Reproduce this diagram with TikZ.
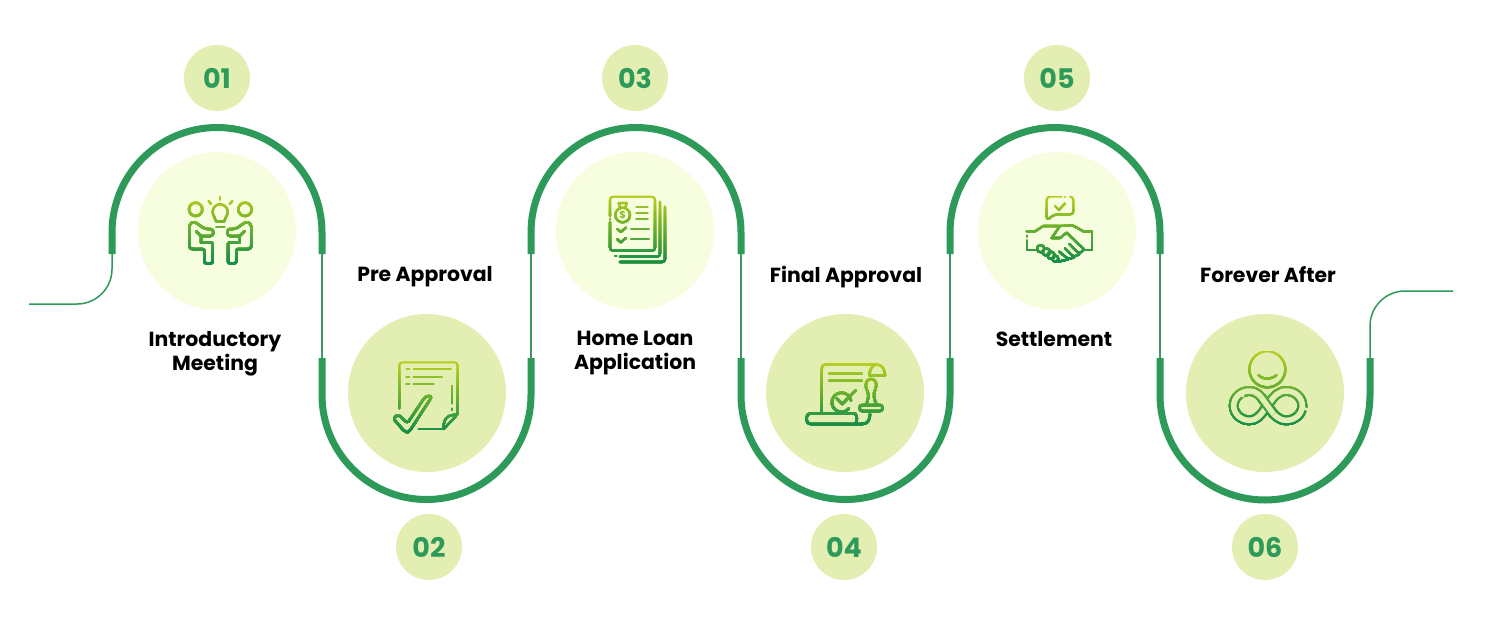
\documentclass[tikz,border=0pt]{standalone}
\usepackage{fontspec}
\setmainfont{Poppins}
\definecolor{wave}{HTML}{2E9A5A}
\definecolor{thin}{HTML}{3F9468}
\definecolor{pale}{HTML}{F7FEDF}
\definecolor{soft}{HTML}{E3EEB3}
\definecolor{icontop}{HTML}{B4CE1E}
\definecolor{iconbot}{HTML}{14904A}
\colorlet{gc}{iconbot}
\tikzset{
  thickwave/.style={draw=wave,line width=7pt,line cap=butt},
  thinwave/.style={draw=thin,line width=1.8pt},
  leadwave/.style={draw=wave,line width=1.5pt},
  bigpale/.style={circle,fill=pale,minimum size=158pt,inner sep=0pt},
  bigsoft/.style={circle,fill=soft,minimum size=158pt,inner sep=0pt},
  numdisc/.style={circle,fill=soft,minimum size=66pt,inner sep=0pt,text=wave,font=\bfseries\fontsize{27}{30}\selectfont},
  steplabel/.style={align=center,text=black,font=\bfseries\fontsize{20.4}{24}\selectfont},
  ic/.style={draw=gc,line width=2.5pt,line cap=round,line join=round},
  ict/.style={draw=gc,line width=2.1pt,line cap=round,line join=round},
  iconframe/.style={x=0.33333pt,y=-0.33333pt}
}
% #1,#2 = top and bottom of the icon (local y); #3 = stroked paths
\newcommand\gradicon[3]{%
  \foreach \i in {0,...,23}{%
    \pgfmathsetmacro\pp{100-100*\i/23}%
    \pgfmathsetmacro\yy{#1+\i*(#2-#1)/24}%
    \colorlet{gc}{icontop!\pp!iconbot}%
    \begin{scope}
      \clip (-200,\yy) rectangle (800,#2+30);
      #3
    \end{scope}
  }%
}
\newcommand\personpath{%
  \draw[ic,rounded corners=3pt] (190,297) -- (178,297) -- (178,222) -- (192,214) -- (225,237) -- (250,237) -- (250,258) -- (213,258);
  \draw[ic] (198,243) -- (213,258) -- (213,277);
  \draw[ic,rounded corners=2pt] (190,297) -- (223,297) -- (223,340) -- (248,340) -- (248,277) -- (213,277);
}
\begin{document}
\begin{tikzpicture}[x=1pt,y=-1pt]
\useasboundingbox (0,0) rectangle (1486,621);
% ---- discs
\node[bigpale] (c1) at (217,231) {};
\node[bigsoft] (c2) at (427,393) {};
\node[bigpale] (c3) at (635,231) {};
\node[bigsoft] (c4) at (845,393) {};
\node[bigpale] (c5) at (1057,231) {};
\node[bigsoft] (c6) at (1265,393) {};
% ---- wave junctions
\coordinate (s) at (29,304);
\coordinate (a0u) at (112,254);
\coordinate (a1u) at (322,254); \coordinate (a1d) at (322,358);
\coordinate (a2u) at (531,254); \coordinate (a2d) at (531,358);
\coordinate (a3u) at (741,254); \coordinate (a3d) at (741,358);
\coordinate (a4u) at (950,254); \coordinate (a4d) at (950,358);
\coordinate (a5u) at (1160,254); \coordinate (a5d) at (1160,358);
\coordinate (a6d) at (1370,358);
\coordinate (e) at (1453,291);
% thin parts
\draw[thinwave] (a1u) -- (a1d);
\draw[thinwave] (a2u) -- (a2d);
\draw[thinwave] (a3u) -- (a3d);
\draw[thinwave] (a4u) -- (a4d);
\draw[thinwave] (a5u) -- (a5d);
\draw[leadwave] (s) -- ++(48,0) arc[start angle=90,end angle=0,radius=35] -- (a0u);
\draw[leadwave] (a6d) -- ++(0,-32) arc[start angle=180,end angle=270,radius=35] -- (e);
% thick arches
\draw[thickwave] (a0u) -- ++(0,-21.5) arc[start angle=180,end angle=360,radius=105] -- (a1u);
\draw[thickwave] (a1d) -- ++(0,37) arc[start angle=180,end angle=0,radius=104.5] -- (a2d);
\draw[thickwave] (a2u) -- ++(0,-21.5) arc[start angle=180,end angle=360,radius=105] -- (a3u);
\draw[thickwave] (a3d) -- ++(0,37) arc[start angle=180,end angle=0,radius=104.5] -- (a4d);
\draw[thickwave] (a4u) -- ++(0,-21.5) arc[start angle=180,end angle=360,radius=105] -- (a5u);
\draw[thickwave] (a5d) -- ++(0,37) arc[start angle=180,end angle=0,radius=105] -- (a6d);
% ---- number discs
\node[numdisc] (n1) at (217,78) {01};
\node[numdisc] (n2) at (429,547) {02};
\node[numdisc] (n3) at (635,78) {03};
\node[numdisc] (n4) at (844,547) {04};
\node[numdisc] (n5) at (1057,78) {05};
\node[numdisc] (n6) at (1265,547) {06};
% ---- labels
\node[steplabel] (l1) at (215,354) {Introductory\\Meeting};
\node[steplabel] (l2) at (425,277) {Pre Approval};
\node[steplabel] (l3) at (635,353) {Home Loan\\Application};
\node[steplabel] (l4) at (846,277) {Final Approval};
\node[steplabel] (l5) at (1054,339) {Settlement};
\node[steplabel] (l6) at (1268,275) {Forever After};
% ---- icon 1: meeting
\begin{scope}[shift={(130,150)},iconframe]
\gradicon{135}{342}{
  \draw[ic] (197,178) circle[radius=20];
  \draw[ic] (345,178) circle[radius=20];
  \draw[ict] (258,214) .. controls (258,203) and (248,199) .. (248,186) .. controls (248,172) and (258,163) .. (270,163) .. controls (283,163) and (293,172) .. (293,186) .. controls (293,199) and (283,203) .. (283,214) -- cycle;
  \draw[ict] (260,231) -- (282,231);
  \draw[ict] (270,140) -- (270,149);
  \draw[ict] (236,153) -- (243,162);
  \draw[ict] (307,153) -- (299,162);
  \personpath
  \begin{scope}[shift={(542,0)},xscale=-1]\personpath\end{scope}
}
\end{scope}
% ---- icon 2: signed page
\begin{scope}[shift={(345,315)},iconframe]
\gradicon{138}{354}{
  \draw[ict,rounded corners=3pt] (163,280) -- (163,142) -- (338,142) -- (338,298) -- (296,342);
  \draw[ict] (296,342) -- (222,342);
  \draw[ict] (338,298) .. controls (312,300) and (294,305) .. (296,342);
  \draw[ict] (322,214) -- (322,264);
  \draw[ict] (322,282) -- (322,284);
  \draw[ict] (207,163) -- (317,163);
  \draw[ict] (207,185) -- (290,185);
  \draw[ict] (207,207) -- (265,207);
  \draw[ict] (185,163) -- (192,163);
  \draw[ict] (185,185) -- (192,185);
  \draw[ict] (185,207) -- (192,207);
  \draw[ic,rounded corners=3pt] (160,298) -- (187,325) -- (242,243) -- (262,243) -- (192,351) -- (180,351) -- (144,310) -- cycle;
}
\end{scope}
% ---- icon 3: documents
\begin{scope}[shift={(560,160)},iconframe]
\gradicon{105}{310}{
  \draw[ict,rounded corners=3pt] (150,168) -- (150,110) -- (285,110) -- (285,272) -- (150,272) -- (150,186);
  \draw[ict] (150,177) -- (150,178);
  \draw[ict,rounded corners=3pt] (300,125) -- (300,290) -- (180,290);
  \draw[ict] (167,288) -- (168,288);
  \draw[ict,rounded corners=3pt] (315,140) -- (315,306) -- (180,306);
  \draw[ict] (188,165) circle[radius=22];
  \draw[ict] (180,143) -- (176,129) -- (200,129) -- (196,143);
  \draw[ict] (230,140) -- (262,140);
  \draw[ict] (230,160) -- (262,160);
  \draw[ict] (230,178) -- (262,178);
  \draw[ict] (172,207) -- (182,216) -- (198,203);
  \draw[ict] (172,238) -- (182,247) -- (198,234);
  \draw[ict] (215,208) -- (265,208);
  \draw[ict] (215,238) -- (265,238);
}
\node[text=icontop!75!iconbot,font=\bfseries\fontsize{10}{10}\selectfont,inner sep=0pt] (bag) at (188,165) {\$};
\end{scope}
% ---- icon 4: stamped scroll
\begin{scope}[shift={(770,330)},iconframe]
\gradicon{100}{286}{
  \draw[ic,rounded corners=4pt] (155,245) -- (155,103) -- (322,103);
  \draw[ic] (322,103) .. controls (338,105) and (345,120) .. (345,136) -- (298,136) .. controls (298,118) and (308,104) .. (322,103);
  \draw[ic] (178,130) -- (275,130);
  \draw[ic] (178,152) -- (275,152);
  \draw[ic] (243,212) arc[start angle=-10,end angle=-320,radius=29];
  \draw[ic] (200,205) -- (217,222) -- (258,180);
  \draw[ic] (288,225) .. controls (296,205) and (298,195) .. (290,178) .. controls (282,158) and (293,147) .. (303,147) .. controls (315,147) and (324,160) .. (316,178) .. controls (308,195) and (312,205) .. (320,225);
  \draw[ic,rounded corners=3pt] (268,225) rectangle (338,243);
  \draw[ic,rounded corners=4pt] (255,250) -- (110,250) -- (110,282) -- (275,282);
  \draw[ic] (255,250) .. controls (262,258) and (262,274) .. (256,282);
  \draw[ic] (275,282) .. controls (292,282) and (300,272) .. (300,252);
}
\end{scope}
% ---- icon 5: handshake
\begin{scope}[shift={(1000,170)},iconframe]
\gradicon{78}{278}{
  \draw[ict,rounded corners=3pt] (185,80) -- (140,80) -- (140,150) -- (165,133) -- (220,133) -- (220,80) -- (210,80);
  \draw[ict] (195,80) -- (196,80);
  \draw[ict] (165,108) -- (177,120) -- (195,100);
  \draw[ict] (80,184) -- (105,184) -- (130,168) -- (178,168);
  \draw[ict] (80,198) -- (80,199);
  \draw[ict] (80,212) -- (80,240) -- (108,240);
  \draw[ict] (276,184) -- (250,184) -- (218,166) -- (180,168) -- (155,204) -- (180,204) -- (200,188) -- (252,238);
  \draw[ict] (276,184) -- (276,240) -- (252,240);
  \draw[ict,rounded corners=3pt] (252,238) -- (238,252) -- (208,222);
  \draw[ict,rounded corners=3pt] (238,252) -- (222,262) -- (195,235);
  \draw[ict,rounded corners=3pt] (222,262) -- (205,268) -- (178,245);
  \draw[ict] (205,268) -- (175,275);
  \draw[ict] (122,236) circle[radius=11];
  \draw[ict] (139,246) circle[radius=11];
  \draw[ict] (153,256) circle[radius=11];
  \draw[ict] (166,266) circle[radius=9];
}
\end{scope}
% ---- icon 6: infinity and smile
\begin{scope}[shift={(1210,335)},iconframe]
\gradicon{48}{272}{
  \draw[ict] (172,103) circle[radius=54];
  \draw[ict] (146,120) .. controls (155,134) and (188,134) .. (199,120);
  \draw[ict,double=soft,double distance=5.5pt] (172,212) .. controls (150,180) and (140,168) .. (118,168) .. controls (92,168) and (71,188) .. (71,212) .. controls (71,236) and (92,256) .. (118,256) .. controls (140,256) and (150,244) .. (172,212) .. controls (194,180) and (206,168) .. (230,168) .. controls (256,168) and (277,188) .. (277,212) .. controls (277,236) and (256,256) .. (230,256) .. controls (206,256) and (194,244) .. (172,212);
  \draw[ict,line cap=butt,double=soft,double distance=5.5pt] (153,186) -- (191,238);
  \draw[draw=soft,line width=2.6pt] (283,220) -- (292,224);
  \draw[draw=soft,line width=2.6pt] (96,178) -- (100,186);
}
\end{scope}
\end{tikzpicture}
\end{document}
